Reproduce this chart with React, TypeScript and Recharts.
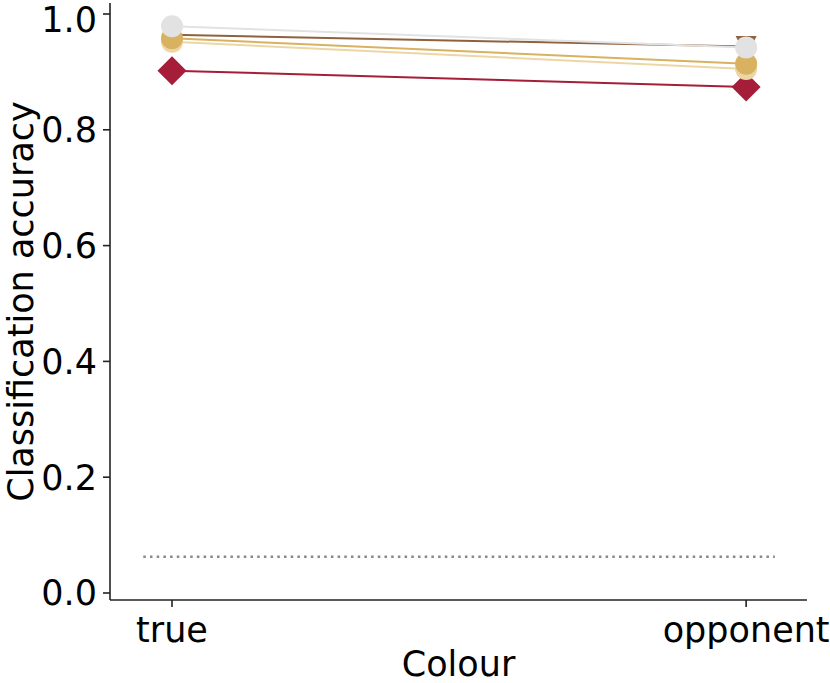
import React from "react";
import { LineChart, Line, XAxis, YAxis, ReferenceLine } from "recharts";

const categories = ["true", "opponent"];
const redSeries = [0.902, 0.874];
const lightGoldSeries = [0.952, 0.905];
const goldSeries = [0.958, 0.914];
const brownSeries = [0.964, 0.944];
const graySeries = [0.979, 0.942];
const chanceLevel = 0.0625;
const yTicks = [0, 0.2, 0.4, 0.6, 0.8, 1.0];

const data = categories.map((c, i) => ({
  x: i,
  red: redSeries[i],
  lightGold: lightGoldSeries[i],
  gold: goldSeries[i],
  brown: brownSeries[i],
  gray: graySeries[i],
}));

const FONT = "DejaVu Sans";
const FS = 35;

const Circle = (color: string, r: number) => (props: any) => {
  const { cx, cy, index } = props;
  if (cx == null || cy == null) return <g key={index} />;
  return <circle key={index} cx={cx} cy={cy} r={r} fill={color} />;
};

const Diamond = (color: string, h: number) => (props: any) => {
  const { cx, cy, index } = props;
  if (cx == null || cy == null) return <g key={index} />;
  return (
    <polygon
      key={index}
      points={`${cx},${cy - h} ${cx + h},${cy} ${cx},${cy + h} ${cx - h},${cy}`}
      fill={color}
    />
  );
};

const TriDown = (color: string, s: number) => (props: any) => {
  const { cx, cy, index } = props;
  if (cx == null || cy == null) return <g key={index} />;
  return (
    <polygon
      key={index}
      points={`${cx - s},${cy - s} ${cx + s},${cy - s} ${cx},${cy + s}`}
      fill={color}
    />
  );
};

const RED = "#a51d38";
const LIGHTGOLD = "#ecd6a6";
const GOLD = "#d8b261";
const BROWN = "#8f623f";
const GRAY = "#e2e2e2";

export default function App() {
  return (
    <div style={{ position: "absolute", left: 0, top: 0 }}>
      <LineChart
        width={830}
        height={683}
        data={data}
        margin={{ top: 3, right: 23, left: 0, bottom: 0 }}
      >
        <XAxis
          dataKey="x"
          type="number"
          domain={[-0.108, 1.106]}
          ticks={[0, 1]}
          tickFormatter={(v: number) => categories[v] ?? ""}
          height={83}
          axisLine={{ stroke: "#222", strokeWidth: 1.6 }}
          tickLine={{ stroke: "#222", strokeWidth: 1.6 }}
          tickSize={7}
          tick={{ fill: "#000", fontSize: FS, fontFamily: FONT, dy: 8 }}
          allowDataOverflow
          label={{
            value: "Colour",
            position: "insideBottom",
            offset: 7,
            fill: "#000",
            fontSize: FS,
            fontFamily: FONT,
          }}
        />
        <YAxis
          type="number"
          domain={[-0.0121, 1.019]}
          ticks={yTicks}
          tickFormatter={(v: number) => v.toFixed(1)}
          width={110}
          axisLine={{ stroke: "#222", strokeWidth: 1.6 }}
          tickLine={{ stroke: "#222", strokeWidth: 1.6 }}
          tickSize={7}
          tick={{ fill: "#000", fontSize: FS, fontFamily: FONT, dx: -4 }}
          allowDataOverflow
          label={{
            value: "Classification accuracy",
            angle: -90,
            position: "insideLeft",
            offset: 0,
            dx: 21,
            fill: "#000",
            fontSize: FS,
            fontFamily: FONT,
            style: { textAnchor: "middle" },
          }}
        />
        <ReferenceLine
          segment={[
            { x: -0.05, y: chanceLevel },
            { x: 1.05, y: chanceLevel },
          ]}
          stroke="#888"
          strokeWidth={2.5}
          strokeDasharray="2.5 4.2"
        />
        <Line
          dataKey="red"
          stroke={RED}
          strokeWidth={2}
          dot={Diamond(RED, 14.5)}
          activeDot={false}
          isAnimationActive={false}
        />
        <Line
          dataKey="brown"
          stroke={BROWN}
          strokeWidth={2}
          dot={TriDown(BROWN, 10.5)}
          activeDot={false}
          isAnimationActive={false}
        />
        <Line
          dataKey="lightGold"
          stroke={LIGHTGOLD}
          strokeWidth={2}
          dot={Circle(LIGHTGOLD, 11)}
          activeDot={false}
          isAnimationActive={false}
        />
        <Line
          dataKey="gold"
          stroke={GOLD}
          strokeWidth={2}
          dot={Circle(GOLD, 11)}
          activeDot={false}
          isAnimationActive={false}
        />
        <Line
          dataKey="gray"
          stroke={GRAY}
          strokeWidth={2}
          dot={Circle(GRAY, 11)}
          activeDot={false}
          isAnimationActive={false}
        />
      </LineChart>
    </div>
  );
}
